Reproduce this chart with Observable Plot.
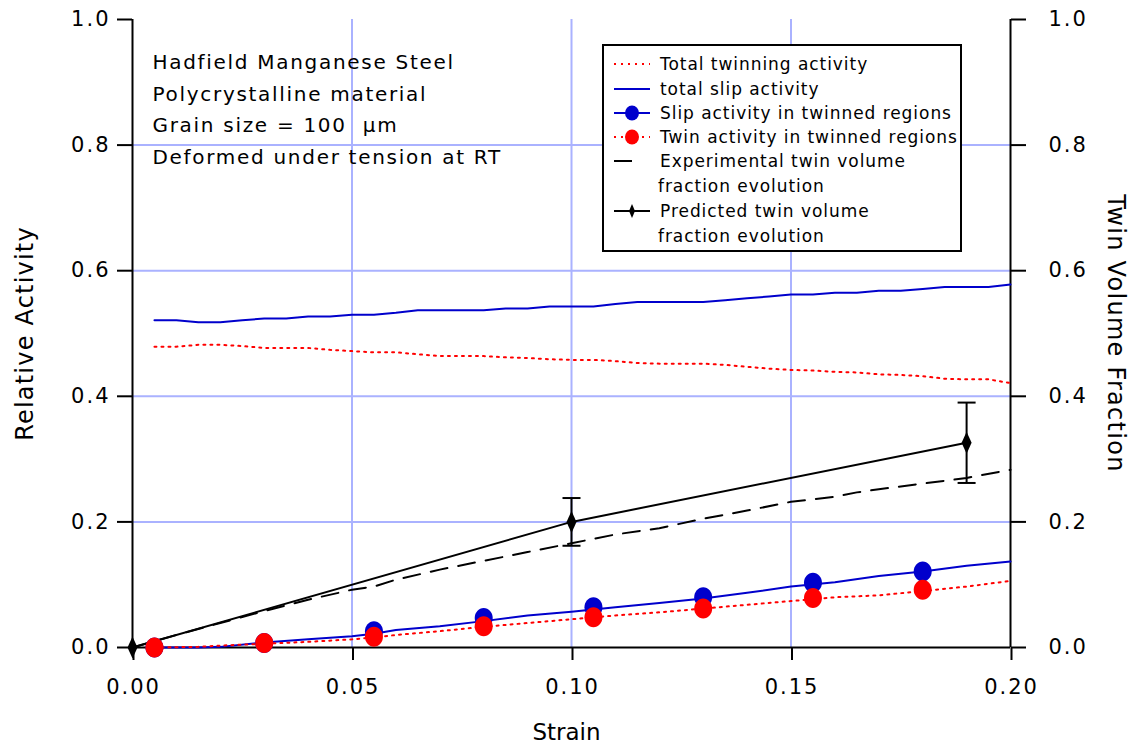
<!DOCTYPE html>
<html>
<head>
<meta charset="utf-8">
<script src="https://cdn.jsdelivr.net/npm/d3@7"></script>
<script src="https://cdn.jsdelivr.net/npm/@observablehq/plot@0.6"></script>
<style>
  html, body { margin: 0; padding: 0; background: white; }
  #wrap { position: relative; width: 1136px; height: 752px; font-family: "DejaVu Sans", Verdana, sans-serif; }
  #legend { position: absolute; left: 602px; top: 44px; width: 356px; height: 204px; border: 2px solid black; background: white; }
  .row { position: absolute; left: 0; height: 24px; display: flex; align-items: center; font-size: 17px; letter-spacing: 0.95px; white-space: nowrap; }
  .row svg { margin-left: 8px; margin-right: 8px; }
  .cont { position: absolute; left: 54px; font-size: 17px; letter-spacing: 0.95px; white-space: nowrap; line-height: 24px; }
</style>
</head>
<body>
<div id="wrap"></div>
<script>
// ---- data ----
const xDomain = [0, 0.2];
const yDomain = [0, 1];
const xTicks = [0, 0.05, 0.10, 0.15, 0.20];
const yTicks = [0, 0.2, 0.4, 0.6, 0.8, 1.0];
const xGrid = [0.05, 0.10, 0.15];
const yGrid = [0.2, 0.4, 0.6, 0.8];

const totalStrain = [0.005,0.010,0.015,0.020,0.025,0.030,0.035,0.040,0.045,0.050,0.055,0.060,0.065,0.070,0.075,0.080,0.085,0.090,0.095,0.100,0.105,0.110,0.115,0.120,0.125,0.130,0.135,0.140,0.145,0.150,0.155,0.160,0.165,0.170,0.175,0.180,0.185,0.190,0.195,0.200];
const totalSlip = [0.521,0.521,0.518,0.518,0.521,0.524,0.524,0.527,0.527,0.530,0.530,0.533,0.537,0.537,0.537,0.537,0.540,0.540,0.543,0.543,0.543,0.547,0.550,0.550,0.550,0.550,0.553,0.556,0.559,0.562,0.562,0.565,0.565,0.568,0.568,0.571,0.574,0.574,0.574,0.578];
const totalTwin = [0.479,0.479,0.482,0.482,0.480,0.477,0.477,0.477,0.474,0.472,0.470,0.470,0.467,0.464,0.464,0.464,0.462,0.461,0.459,0.458,0.458,0.456,0.453,0.452,0.452,0.452,0.450,0.447,0.444,0.442,0.441,0.439,0.438,0.435,0.434,0.432,0.428,0.427,0.427,0.421];

const twStrain = [0.005,0.015,0.020,0.030,0.040,0.050,0.055,0.060,0.070,0.080,0.090,0.100,0.110,0.120,0.130,0.140,0.150,0.160,0.170,0.180,0.190,0.200];
const slipTwinnedLine = [0.000,0.000,0.001,0.008,0.013,0.018,0.022,0.028,0.034,0.042,0.051,0.057,0.064,0.071,0.078,0.087,0.097,0.104,0.114,0.121,0.130,0.137];
const twinTwinnedLine = [0.000,0.001,0.003,0.006,0.009,0.013,0.016,0.020,0.026,0.033,0.039,0.045,0.051,0.056,0.062,0.068,0.074,0.080,0.083,0.090,0.097,0.106];

const markerStrain = [0.005,0.030,0.055,0.080,0.105,0.130,0.155,0.180];
const slipTwinnedPts = [0.000,0.007,0.026,0.047,0.064,0.080,0.103,0.121];
const twinTwinnedPts = [0.000,0.007,0.017,0.034,0.048,0.062,0.079,0.092];

const expStrain = [0,0.010,0.020,0.030,0.040,0.050,0.055,0.060,0.070,0.080,0.090,0.100,0.110,0.120,0.130,0.140,0.150,0.160,0.165,0.170,0.180,0.190,0.200];
const expFraction = [0,0.020,0.039,0.058,0.076,0.092,0.097,0.108,0.124,0.138,0.152,0.166,0.180,0.190,0.205,0.218,0.232,0.240,0.247,0.252,0.261,0.270,0.283];

const predStrain = [0, 0.10, 0.19];
const predFraction = [0, 0.200, 0.326];
const predLow = [null, 0.162, 0.262];
const predHigh = [null, 0.238, 0.390];

const annotation = ["Hadfield Manganese Steel", "Polycrystalline material", "Grain size = 100  \u03bcm", "Deformed under tension at RT"];
const legendItems = ["Total twinning activity", "total slip activity", "Slip activity in twinned regions", "Twin activity in twinned regions", "Experimental twin volume|fraction evolution", "Predicted twin volume|fraction evolution"];

// ---- styles ----
const BLUE = "#0000cc", RED = "#ff0000", GRID = "#aab2ff";
const FONT = "DejaVu Sans, Verdana, sans-serif";

// ---- tables ----
const totals = totalStrain.map((x, i) => ({x, slip: totalSlip[i], twin: totalTwin[i]}));
const twLines = twStrain.map((x, i) => ({x, slip: slipTwinnedLine[i], twin: twinTwinnedLine[i]}));
const markers = markerStrain.map((x, i) => ({x, slip: slipTwinnedPts[i], twin: twinTwinnedPts[i]}));
const exp = expStrain.map((x, i) => ({x, y: expFraction[i]}));
const pred = predStrain.map((x, i) => ({x, y: predFraction[i], lo: predLow[i], hi: predHigh[i]}));
const predErr = pred.filter(d => d.lo != null);

// custom symbols
const ellipse = {draw(ctx) {
  const rx = 9, ry = 10, k = 0.5523;
  ctx.moveTo(rx, 0);
  ctx.bezierCurveTo(rx, ry * k, rx * k, ry, 0, ry);
  ctx.bezierCurveTo(-rx * k, ry, -rx, ry * k, -rx, 0);
  ctx.bezierCurveTo(-rx, -ry * k, -rx * k, -ry, 0, -ry);
  ctx.bezierCurveTo(rx * k, -ry, rx, -ry * k, rx, 0);
  ctx.closePath();
}};
const diamond = {draw(ctx) {
  ctx.moveTo(0, -11); ctx.lineTo(5, 0); ctx.lineTo(0, 11); ctx.lineTo(-5, 0); ctx.closePath();
}};
const cap = {draw(ctx) { ctx.moveTo(-9, 0); ctx.lineTo(9, 0); }};

const plot = Plot.plot({
  width: 1136, height: 752,
  marginLeft: 132, marginRight: 126, marginTop: 19, marginBottom: 105,
  x: {domain: xDomain},
  y: {domain: yDomain},
  style: {fontFamily: FONT, fontSize: "21px", color: "black", background: "white", overflow: "visible"},
  marks: [
    Plot.gridX(xGrid, {stroke: GRID, strokeOpacity: 1, strokeWidth: 2}),
    Plot.gridY(yGrid, {stroke: GRID, strokeOpacity: 1, strokeWidth: 2}),
    Plot.ruleX(xDomain, {stroke: "black", strokeWidth: 2}),
    Plot.ruleY([yDomain[0]], {stroke: "black", strokeWidth: 2}),
    Plot.axisX(xTicks, {tickSize: 13, tickPadding: 19, tickFormat: d3.format(".2f"), label: null, strokeWidth: 2, dx: 1}),
    Plot.axisY(yTicks, {anchor: "left", tickSize: 15, tickPadding: 7, tickFormat: d3.format(".1f"), label: null, strokeWidth: 2}),
    Plot.axisY(yTicks, {anchor: "right", tickSize: 15, tickPadding: 23, tickFormat: d3.format(".1f"), label: null, strokeWidth: 2}),
    Plot.text(["Relative Activity"], {frameAnchor: "left", dx: -107, rotate: -90, textAnchor: "middle", fontSize: 24}),
    Plot.text(["Twin Volume Fraction"], {frameAnchor: "right", dx: 105, rotate: 90, textAnchor: "middle", fontSize: 24}),
    Plot.text(["Strain"], {frameAnchor: "bottom", dx: -5, dy: 92, fontSize: 23}),
    Plot.text([annotation.join("\n")], {frameAnchor: "top-left", dx: 20, dy: 27, lineAnchor: "top", lineHeight: 1.58, textAnchor: "start", fontSize: 20}),
    // total activities
    Plot.line(totals, {x: "x", y: "slip", stroke: BLUE, strokeWidth: 2}),
    Plot.line(totals, {x: "x", y: "twin", stroke: RED, strokeWidth: 2, strokeDasharray: "2,5"}),
    // experimental & predicted
    Plot.line(exp, {x: "x", y: "y", stroke: "black", strokeWidth: 2, strokeDasharray: "17,11"}),
    Plot.line(pred, {x: "x", y: "y", stroke: "black", strokeWidth: 2}),
    Plot.ruleX(predErr, {x: "x", y1: "lo", y2: "hi", stroke: "black", strokeWidth: 2}),
    Plot.dot(predErr, {x: "x", y: "lo", symbol: cap, stroke: "black", fill: "none", strokeWidth: 2}),
    Plot.dot(predErr, {x: "x", y: "hi", symbol: cap, stroke: "black", fill: "none", strokeWidth: 2}),
    // twinned regions
    Plot.line(twLines, {x: "x", y: "slip", stroke: BLUE, strokeWidth: 2}),
    Plot.line(twLines, {x: "x", y: "twin", stroke: RED, strokeWidth: 2, strokeDasharray: "2,5"}),
    Plot.dot(markers, {x: "x", y: "slip", symbol: ellipse, fill: BLUE, stroke: "none"}),
    Plot.dot(markers, {x: "x", y: "twin", symbol: ellipse, fill: RED, stroke: "none"}),
    Plot.dot(pred, {x: "x", y: "y", symbol: diamond, fill: "black", stroke: "none"})
  ]
});

// letter spacing to mimic the wider original typeface
const spacingFor = (t) => {
  if (/^\d\.\d+$/.test(t)) return "2px";
  if (t === "Relative Activity") return "1.2px";
  if (t === "Twin Volume Fraction") return "1.3px";
  if (t === "Strain") return "0px";
  return "1.7px";
};
d3.select(plot).selectAll("text").each(function() {
  const s = spacingFor(this.textContent);
  this.setAttribute("letter-spacing", s);
  this.style.letterSpacing = s;
});

const wrap = document.getElementById("wrap");
wrap.appendChild(plot);

// legend
const legend = document.createElement("div");
legend.id = "legend";
const swatches = [
  `<line x1="2" x2="38" y1="10" y2="10" stroke="${RED}" stroke-width="2" stroke-dasharray="2,5"/>`,
  `<line x1="2" x2="38" y1="10" y2="10" stroke="${BLUE}" stroke-width="2"/>`,
  `<line x1="2" x2="38" y1="10" y2="10" stroke="${BLUE}" stroke-width="2"/><ellipse cx="20" cy="10" rx="7" ry="7.5" fill="${BLUE}"/>`,
  `<line x1="2" x2="38" y1="10" y2="10" stroke="${RED}" stroke-width="2" stroke-dasharray="2,5"/><ellipse cx="20" cy="10" rx="7" ry="7.5" fill="${RED}"/>`,
  `<line x1="2" x2="20" y1="10" y2="10" stroke="black" stroke-width="2"/>`,
  `<line x1="2" x2="38" y1="10" y2="10" stroke="black" stroke-width="2"/><path d="M20,3L23,10L20,17L17,10Z" fill="black"/>`
];
const rowTops = [6, 31, 55, 79, 103, 153];
legendItems.forEach((label, i) => {
  const parts = label.split("|");
  const row = document.createElement("div");
  row.className = "row";
  row.style.top = rowTops[i] + "px";
  row.innerHTML = `<svg width="40" height="20">${swatches[i]}</svg><span>${parts[0]}</span>`;
  legend.appendChild(row);
  if (parts[1]) {
    const c = document.createElement("div");
    c.className = "cont";
    c.style.top = (rowTops[i] + 25) + "px";
    c.textContent = parts[1];
    legend.appendChild(c);
  }
});
wrap.appendChild(legend);
</script>
</body>
</html>
